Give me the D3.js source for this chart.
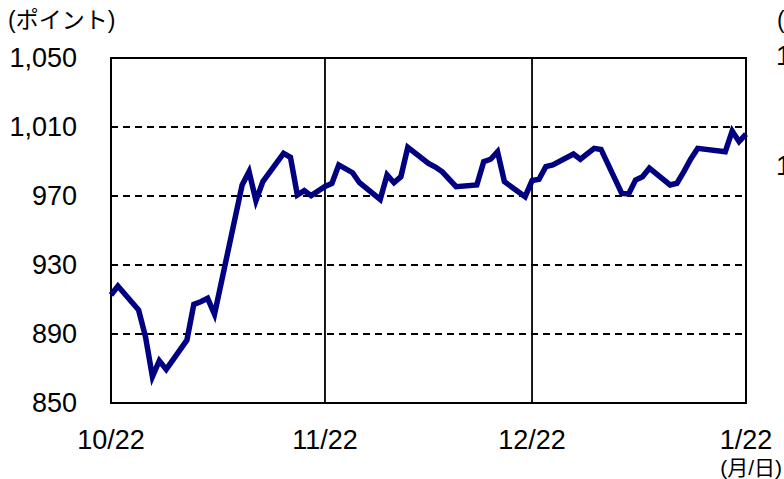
<!DOCTYPE html>
<html>
<head>
<meta charset="utf-8">
<script src="https://cdn.jsdelivr.net/npm/d3@7"></script>
<style>
  html, body { margin: 0; padding: 0; background: #fff; overflow: hidden; }
  text { font-family: "Liberation Sans", "Noto Sans CJK JP", sans-serif; fill: #000; }
</style>
</head>
<body>
<div id="chart"></div>
<script>
// daily index values
const dates = [
  '2020-10-22','2020-10-23','2020-10-26','2020-10-27','2020-10-28','2020-10-29','2020-10-30',
  '2020-11-02','2020-11-03','2020-11-04','2020-11-05','2020-11-06','2020-11-10','2020-11-11',
  '2020-11-12','2020-11-13','2020-11-16','2020-11-17','2020-11-18','2020-11-19','2020-11-20',
  '2020-11-22','2020-11-23','2020-11-24','2020-11-26','2020-11-27','2020-11-30','2020-12-01',
  '2020-12-02','2020-12-03','2020-12-04','2020-12-07','2020-12-08','2020-12-09','2020-12-11',
  '2020-12-14','2020-12-15','2020-12-16','2020-12-17','2020-12-18','2020-12-21','2020-12-22',
  '2020-12-23','2020-12-24','2020-12-25','2020-12-28','2020-12-29','2020-12-31','2021-01-01',
  '2021-01-04','2021-01-05','2021-01-06','2021-01-07','2021-01-08','2021-01-11','2021-01-12',
  '2021-01-13','2021-01-14','2021-01-15','2021-01-19','2021-01-20','2021-01-21','2021-01-22'
];
const values = [
  912.6, 917.8, 903.9, 888.4, 865.3, 874.5, 869.5,
  886.5, 907.2, 908.7, 910.7, 901.4, 976.4, 984.1,
  967.3, 978.3, 994.7, 992.4, 970.6, 973.1, 970.2,
  975.5, 977.3, 988.0, 983.5, 977.7, 968.0, 982.2,
  977.7, 981.2, 998.2, 988.9, 986.8, 984.0, 975.4,
  976.4, 989.9, 991.3, 995.7, 978.3, 969.6, 978.9,
  979.7, 987.0, 988.0, 994.3, 991.3, 997.6, 997.0,
  971.5, 971.2, 979.3, 981.2, 986.1, 976.4, 977.4,
  984.1, 991.5, 997.6, 995.7, 1007.7, 1001.5, 1005.8
];
const yTicks = [850, 890, 930, 970, 1010, 1050];
const xTicks = ['2020-10-22', '2020-11-22', '2020-12-22', '2021-01-22'];
const xTickLabels = ['10/22', '11/22', '12/22', '1/22'];

const W = 784, H = 479;
const m = { l: 111, r: 746, t: 58, b: 403 };
const parse = d3.timeParse('%Y-%m-%d');

const svg = d3.select('#chart').append('svg').attr('width', W).attr('height', H);

const x = d3.scaleTime()
  .domain([parse(xTicks[0]), parse(xTicks[xTicks.length - 1])])
  .range([m.l, m.r]);
const y = d3.scaleLinear().domain([850, 1050]).range([m.b, m.t]);

// dashed horizontal gridlines
svg.append('g').selectAll('line')
  .data(yTicks.slice(1, -1))
  .join('line')
  .attr('x1', m.l).attr('x2', m.r)
  .attr('y1', d => y(d)).attr('y2', d => y(d))
  .attr('stroke', '#000').attr('stroke-width', 1.8)
  .attr('stroke-dasharray', '7,5');

// solid month lines
svg.append('g').selectAll('line')
  .data(xTicks.slice(1, -1))
  .join('line')
  .attr('x1', d => x(parse(d))).attr('x2', d => x(parse(d)))
  .attr('y1', m.t).attr('y2', m.b)
  .attr('stroke', '#000').attr('stroke-width', 1.8);

// frame
svg.append('rect')
  .attr('x', m.l).attr('y', m.t)
  .attr('width', m.r - m.l).attr('height', m.b - m.t)
  .attr('fill', 'none').attr('stroke', '#000').attr('stroke-width', 2);

// y labels
svg.append('g').selectAll('text')
  .data(yTicks)
  .join('text')
  .attr('x', 77).attr('y', d => y(d))
  .attr('dy', '0.35em')
  .attr('text-anchor', 'end')
  .attr('font-size', 27)
  .text(d => d3.format(',')(d));

// x labels
svg.append('g').selectAll('text')
  .data(xTicks)
  .join('text')
  .attr('x', d => x(parse(d)))
  .attr('y', 449)
  .attr('text-anchor', 'middle')
  .attr('font-size', 27)
  .text((d, i) => xTickLabels[i]);

svg.append('text').attr('x', 8).attr('y', 28).attr('font-size', 23).text('(ポイント)');
svg.append('text').attr('x', 782).attr('y', 475).attr('text-anchor', 'end').attr('font-size', 21).text('(月/日)');

// neighbouring chart, cut off at the right edge
svg.append('text').attr('x', 777).attr('y', 28).attr('font-size', 23).text('(ポイント)');
svg.append('text').attr('x', 776).attr('y', 65).attr('font-size', 27).text('1,050');
svg.append('text').attr('x', 776).attr('y', 175).attr('font-size', 27).text('1,000');

// the line
const line = d3.line()
  .x((d, i) => x(parse(dates[i])))
  .y(d => y(d));

svg.append('path')
  .datum(values)
  .attr('d', line)
  .attr('fill', 'none')
  .attr('stroke', '#000080')
  .attr('stroke-width', 5.5)
  .attr('stroke-linejoin', 'miter');
</script>
</body>
</html>
